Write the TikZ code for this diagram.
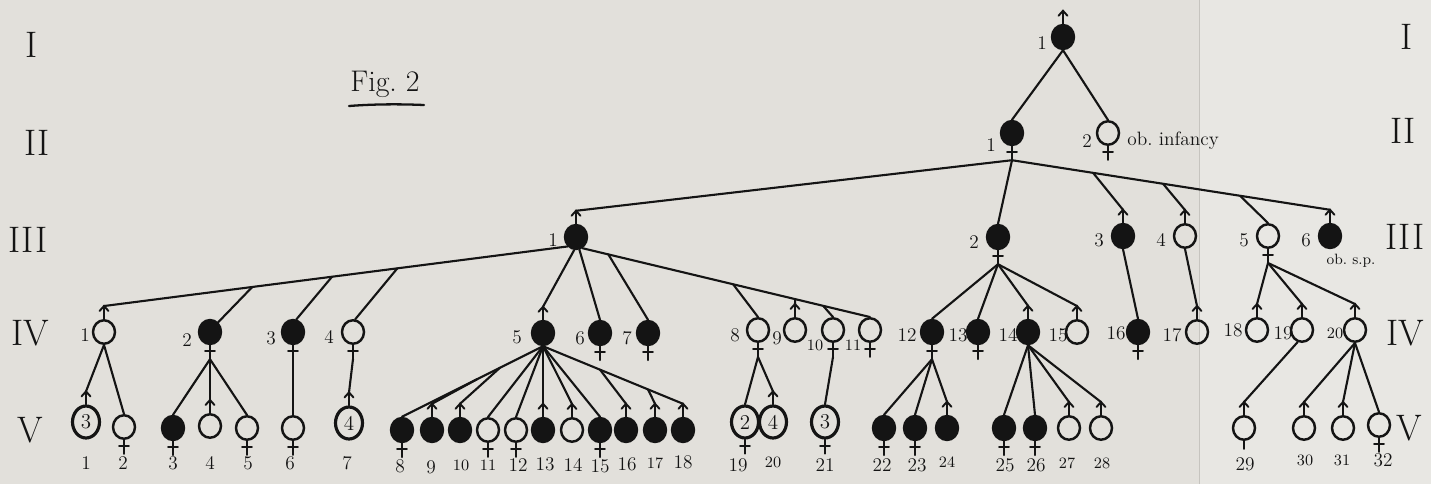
\documentclass[tikz,border=0pt]{standalone}
\usetikzlibrary{shapes.geometric,calc}
\definecolor{paper}{HTML}{E2E0DB}
\definecolor{paperR}{HTML}{E8E7E3}
\definecolor{ink}{HTML}{141414}
\definecolor{fold}{HTML}{C6C4BF}

\tikzset{
  link/.style={draw=ink, line width=1.2pt, line cap=round},
  sym/.style={draw=ink, line width=1.1pt, line cap=round},
  aff/.style={ellipse, fill=ink, draw=ink, line width=1.1pt, minimum width=0.45cm, minimum height=0.49cm, inner sep=0pt},
  unaff/.style={ellipse, draw=ink, line width=1.4pt, minimum width=0.44cm, minimum height=0.47cm, inner sep=0pt},
  grp/.style={ellipse, draw=ink, line width=1.8pt, minimum width=0.54cm, minimum height=0.64cm, inner sep=0pt, text=ink, font=\fontsize{12}{12}\selectfont},
  lab/.style={text=ink, inner sep=0pt, font=\fontsize{11}{12}\selectfont},
  labs/.style={lab, font=\fontsize{9}{10}\selectfont},
  gen/.style={text=ink, inner sep=0pt, font=\fontsize{21}{23}\selectfont},
}

% male: arrow above the circle, tip coordinate <name>-t
\newcommand\mperson[4]{%
  \node[#3] (#1) at (#2) {#4};
  \draw[sym] (#1.north) -- ++(0,-13) coordinate (#1-t);
  \draw[sym] (#1-t) ++(-4.5,5) -- (#1-t) -- ++(4.5,5);
}
% female: cross below the circle, stem end coordinate <name>-b
\newcommand\fperson[4]{%
  \node[#3] (#1) at (#2) {#4};
  \draw[sym] (#1.south) -- ++(0,14) coordinate (#1-b);
  \draw[sym] (#1.south) ++(-5,6) -- ++(10,0);
}

\begin{document}
\begin{tikzpicture}[x=0.02cm, y=-0.02cm]
\useasboundingbox (0,0) rectangle (1431,484);
\fill[paper] (0,0) rectangle (1199,484);
\fill[paperR] (1199,0) rectangle (1431,484);
\draw[fold, line width=0.5pt] (1199,0) -- (1199,484);

% generation numerals
\node[gen] (gL1) at (32,45) {I};
\node[gen] (gL2) at (37,143) {II};
\node[gen] (gL3) at (28,240) {III};
\node[gen] (gL4) at (30,333) {IV};
\node[gen] (gL5) at (30,430) {V};
\node[gen] (gR1) at (1407,37) {I};
\node[gen] (gR2) at (1403,131) {II};
\node[gen] (gR3) at (1405,237) {III};
\node[gen] (gR4) at (1405,333) {IV};
\node[gen] (gR5) at (1409,428) {V};

% title
\node[text=ink, inner sep=0pt, font=\fontsize{17}{18}\selectfont] (fig) at (385,84) {Fig.~2};
\draw[ink, line width=1.3pt, line cap=round] (349,106) .. controls (375,104) and (400,104) .. (424,105);

% ---------- generation I ----------
\mperson{I1}{1063,37}{aff}{}
\node[lab] (I1l) at (1042,43) {1};

% ---------- generation II ----------
\fperson{II1}{1012,133}{aff}{}
\fperson{II2}{1108,133}{unaff}{}
\node[lab] (II1l) at (991,145) {1};
\node[lab] (II2l) at (1087,141) {2};
\node[lab, anchor=west] (II2n) at (1127,141) {ob.\ infancy};

% ---------- generation III ----------
\mperson{III1}{576,237}{aff}{}
\fperson{III2}{998,237}{aff}{}
\mperson{III3}{1123,236}{aff}{}
\mperson{III4}{1185,236}{unaff}{}
\fperson{III5}{1268,236}{unaff}{}
\mperson{III6}{1330,236}{aff}{}
\node[lab] (III1l) at (553,240) {1};
\node[lab] (III2l) at (974,242) {2};
\node[lab] (III3l) at (1099,240) {3};
\node[lab] (III4l) at (1161,240) {4};
\node[lab] (III5l) at (1244,240) {5};
\node[lab] (III6l) at (1306,240) {6};
\node[lab, font=\fontsize{8.5}{9}\selectfont] (III6n) at (1351,261) {ob.\ s.p.};

% ---------- generation IV ----------
\mperson{IV1}{104,332}{unaff}{}
\fperson{IV2}{210,332}{aff}{}
\fperson{IV3}{293,332}{aff}{}
\fperson{IV4}{353,332}{unaff}{}
\mperson{IV5}{543,333}{aff}{}
\fperson{IV6}{600,333}{aff}{}
\fperson{IV7}{648,333}{aff}{}
\fperson{IV8}{758,330}{unaff}{}
\mperson{IV9}{795,330}{unaff}{}
\fperson{IV10}{833,330}{unaff}{}
\fperson{IV11}{870,330}{unaff}{}
\fperson{IV12}{932,332}{aff}{}
\fperson{IV13}{978,332}{aff}{}
\mperson{IV14}{1028,332}{aff}{}
\mperson{IV15}{1077,332}{unaff}{}
\fperson{IV16}{1138,332}{aff}{}
\mperson{IV17}{1197,332}{unaff}{}
\mperson{IV18}{1257,330}{unaff}{}
\mperson{IV19}{1302,330}{unaff}{}
\mperson{IV20}{1355,330}{unaff}{}
\node[lab] (IV1l) at (85,335) {1};
\node[lab] (IV2l) at (187,340) {2};
\node[lab] (IV3l) at (271,338) {3};
\node[lab] (IV4l) at (329,337) {4};
\node[lab] (IV5l) at (517,337) {5};
\node[lab] (IV6l) at (580,338) {6};
\node[lab] (IV7l) at (627,338) {7};
\node[lab] (IV8l) at (735,335) {8};
\node[lab] (IV9l) at (777,338) {9};
\node[labs] (IV10l) at (815,345) {10};
\node[labs] (IV11l) at (853,345) {11};
\node[lab] (IV12l) at (907,335) {12};
\node[lab] (IV13l) at (958,335) {13};
\node[lab] (IV14l) at (1008,335) {14};
\node[lab] (IV15l) at (1058,335) {15};
\node[lab] (IV16l) at (1116,333) {16};
\node[lab] (IV17l) at (1172,335) {17};
\node[lab] (IV18l) at (1233,330) {18};
\node[lab] (IV19l) at (1283,333) {19};
\node[labs] (IV20l) at (1335,333) {20};

% ---------- generation V ----------
\mperson{V1}{86,422}{grp}{3}
\fperson{V2}{124,427}{unaff}{}
\fperson{V3}{173,428}{aff}{}
\mperson{V4}{210,426}{unaff}{}
\fperson{V5}{247,428}{unaff}{}
\fperson{V6}{293,428}{unaff}{}
\mperson{V7}{349,423}{grp}{4}
\fperson{V8}{402,430}{aff}{}
\mperson{V9}{432,430}{aff}{}
\mperson{V10}{460,430}{aff}{}
\fperson{V11}{488,430}{unaff}{}
\fperson{V12}{516,430}{unaff}{}
\mperson{V13}{543,430}{aff}{}
\mperson{V14}{572,430}{unaff}{}
\fperson{V15}{600,430}{aff}{}
\mperson{V16}{626,430}{aff}{}
\mperson{V17}{655,430}{aff}{}
\mperson{V18}{683,430}{aff}{}
\fperson{V19}{745,422}{grp}{2}
\mperson{V20}{773,422}{grp}{4}
\fperson{V21}{825,422}{grp}{3}
\fperson{V22}{884,428}{aff}{}
\fperson{V23}{915,428}{aff}{}
\mperson{V24}{947,428}{aff}{}
\fperson{V25}{1004,428}{aff}{}
\fperson{V26}{1035,428}{aff}{}
\mperson{V27}{1069,428}{unaff}{}
\mperson{V28}{1101,428}{unaff}{}
\mperson{V29}{1244,428}{unaff}{}
\draw[sym] (V29.south) -- ++(0,8);
\mperson{V30}{1304,428}{unaff}{}
\mperson{V31}{1343,428}{unaff}{}
\fperson{V32}{1379,425}{unaff}{}
\node[lab] (V1l) at (86,463) {1};
\node[lab] (V2l) at (123,463) {2};
\node[lab] (V3l) at (173,463) {3};
\node[lab] (V4l) at (210,463) {4};
\node[lab] (V5l) at (248,463) {5};
\node[lab] (V6l) at (290,463) {6};
\node[lab] (V7l) at (347,463) {7};
\node[lab] (V8l) at (400,466) {8};
\node[lab] (V9l) at (431,467) {9};
\node[labs] (V10l) at (461,465) {10};
\node[labs] (V11l) at (488,465) {11};
\node[lab] (V12l) at (518,465) {12};
\node[lab] (V13l) at (545,464) {13};
\node[lab] (V14l) at (573,465) {14};
\node[lab] (V15l) at (600,466) {15};
\node[lab] (V16l) at (627,464) {16};
\node[labs] (V17l) at (655,463) {17};
\node[lab] (V18l) at (683,462) {18};
\node[lab] (V19l) at (738,465) {19};
\node[labs] (V20l) at (773,462) {20};
\node[lab] (V21l) at (825,465) {21};
\node[lab] (V22l) at (882,465) {22};
\node[lab] (V23l) at (917,465) {23};
\node[labs] (V24l) at (947,462) {24};
\node[lab] (V25l) at (1005,465) {25};
\node[lab] (V26l) at (1036,465) {26};
\node[labs] (V27l) at (1067,463) {27};
\node[labs] (V28l) at (1102,463) {28};
\node[lab] (V29l) at (1245,464) {29};
\node[labs] (V30l) at (1305,460) {30};
\node[labs] (V31l) at (1342,460) {31};
\node[lab] (V32l) at (1383,460) {32};

% ---------- descent lines ----------
% I -> II
\draw[link] (I1.south) -- (II1.north);
\draw[link] (I1.south) -- (II2.north);

% II.1 -> III
\draw[link] (II1-b) -- (III1-t);
\draw[link] (II1-b) -- (III2.north);
\draw[link] (II1-b) -- (III6-t);
\coordinate (j3) at ($(II1-b)!0.255!(III6-t)$);
\coordinate (j4) at ($(II1-b)!0.475!(III6-t)$);
\coordinate (j5) at ($(II1-b)!0.717!(III6-t)$);
\draw[link] (j3) -- (III3-t);
\draw[link] (j4) -- (III4-t);
\draw[link] (j5) -- (III5.north);

% III.1 -> IV.1 ... IV.11
\draw[link] (III1.228) -- (IV1-t);
\coordinate (k2) at ($(III1.228)!0.680!(IV1-t)$);
\coordinate (k3) at ($(III1.228)!0.508!(IV1-t)$);
\coordinate (k4) at ($(III1.228)!0.367!(IV1-t)$);
\draw[link] (k2) -- (IV2.50);
\draw[link] (k3) -- (IV3.75);
\draw[link] (k4) -- (IV4.80);
\draw[link] (III1.262) -- (IV5-t);
\draw[link] (III1.285) -- (IV6.north);
\draw[link] (III1.300) -- (IV11.north);
\coordinate (k7) at ($(III1.300)!0.090!(IV11.north)$);
\coordinate (k8) at ($(III1.300)!0.524!(IV11.north)$);
\coordinate (k9) at ($(III1.300)!0.740!(IV11.north)$);
\coordinate (k10) at ($(III1.300)!0.837!(IV11.north)$);
\draw[link] (k7) -- (IV7.north);
\draw[link] (k8) -- (IV8.north);
\draw[link] (k9) -- (IV9-t);
\draw[link] (k10) -- (IV10.north);

% III.2 -> IV.12 ... IV.15
\draw[link] (III2-b) -- (IV12.north);
\draw[link] (III2-b) -- (IV13.north);
\draw[link] (III2-b) -- (IV14-t);
\draw[link] (III2-b) -- (IV15-t);

% III.3, III.4, III.5
\draw[link] (III3.south) -- (IV16.north);
\draw[link] (III4.south) -- (IV17-t);
\draw[link] (III5-b) -- (IV18-t);
\draw[link] (III5-b) -- (IV19-t);
\draw[link] (III5-b) -- (IV20-t);

% IV -> V
\draw[link] (IV1.south) -- (V1-t);
\draw[link] (IV1.south) -- (V2.north);
\draw[link] (IV2-b) -- (V3.north);
\draw[link] (IV2-b) -- (V4-t);
\draw[link] (IV2-b) -- (V5.north);
\draw[link] (IV3-b) -- (V6.north);
\draw[link] (IV4-b) -- (V7-t);

\draw[link] (IV5.south) -- (V8.north);
\coordinate (m9) at ($(IV5.south)!0.468!(V8.north)$);
\coordinate (m10) at ($(IV5.south)!0.305!(V8.north)$);
\draw[link] (m9) -- (V9-t);
\draw[link] (m10) -- (V10-t);
\draw[link] (IV5.south) -- (V11.north);
\draw[link] (IV5.south) -- (V12.north);
\draw[link] (IV5.south) -- (V13-t);
\draw[link] (IV5.south) -- (V14-t);
\draw[link] (IV5.south) -- (V15.north);
\draw[link] (IV5.south) -- (V18-t);
\coordinate (m16) at ($(IV5.south)!0.407!(V18-t)$);
\coordinate (m17) at ($(IV5.south)!0.75!(V18-t)$);
\draw[link] (m16) -- (V16-t);
\draw[link] (m17) -- (V17-t);

\draw[link] (IV8-b) -- (V19.north);
\draw[link] (IV8-b) -- (V20-t);
\draw[link] (IV10-b) -- (V21.north);

\draw[link] (IV12-b) -- (V22.north);
\draw[link] (IV12-b) -- (V23.north);
\draw[link] (IV12-b) -- (V24-t);
\draw[link] (IV14.south) -- (V25.north);
\draw[link] (IV14.south) -- (V26.north);
\draw[link] (IV14.south) -- (V27-t);
\draw[link] (IV14.south) -- (V28-t);

\draw[link] (IV19.250) -- (V29-t);
\draw[link] (IV20.south) -- (V30-t);
\draw[link] (IV20.south) -- (V31-t);
\draw[link] (IV20.south) -- (V32.north);
\end{tikzpicture}
\end{document}
